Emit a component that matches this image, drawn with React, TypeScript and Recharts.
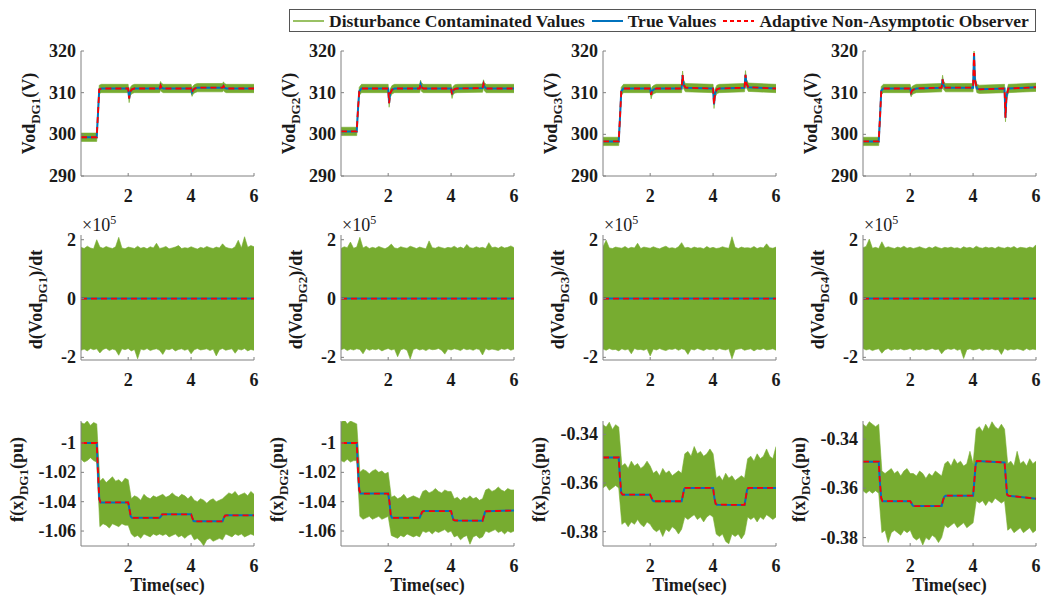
import { ComposedChart, Area, Line, XAxis, YAxis } from "recharts";

const GREEN = "#77AC30";
const BLUE = "#0072BD";
const RED = "#FF0000";
const AXIS = "#808080";
const INK = "#1a1a1a";
const FONT = "'Liberation Serif', 'DejaVu Serif', 'Noto Serif', Tinos, 'Times New Roman', Times, serif";

// layout of the 3x4 grid (plot area corners, page px)
const COL_LEFTS = [81, 341, 603, 863];
const ROW_TOPS = [51, 235, 421];
const PW = 173;
const PH = 125;
const ML = 75;
const MT = 25;
const MR = 12;
const XH = 55;
const CW = ML + PW + MR;
const CH = MT + PH + XH;

// shared time axis
const X_DOMAIN = [0.5, 6];
const X_TICKS = [2, 4, 6];
const T_GRID = [
  0.5, 0.6, 0.7, 0.8, 0.9, 1.0, 1.1, 1.2, 1.3, 1.4,
  1.5, 1.6, 1.7, 1.8, 1.9, 2.0, 2.1, 2.2, 2.3, 2.4,
  2.5, 2.6, 2.7, 2.8, 2.9, 3.0, 3.1, 3.2, 3.3, 3.4,
  3.5, 3.6, 3.7, 3.8, 3.9, 4.0, 4.1, 4.2, 4.3, 4.4,
  4.5, 4.6, 4.7, 4.8, 4.9, 5.0, 5.1, 5.2, 5.3, 5.4,
  5.5, 5.6, 5.7, 5.8, 5.9, 6.0,
];

// ---- row 1: Vod (V)
const VOD_T = [0.5, 1.0, 1.04, 1.08, 1.15, 2.0, 2.03, 2.06, 2.12, 2.2, 3.0, 3.03, 3.06, 3.12, 4.0, 4.03, 4.06, 4.12, 4.2, 5.0, 5.03, 5.06, 5.12, 6.0];
const VOD_DG1 = [299.3, 299.3, 305, 310.8, 311, 311, 308.6, 310.2, 310.8, 311, 311, 311.7, 311.2, 311, 311, 310.1, 310.6, 311, 311.2, 311.2, 311.6, 311.2, 311, 311];
const VOD_DG2 = [300.7, 300.7, 306, 310.3, 311, 311, 307.5, 309.8, 310.7, 311, 311, 312, 311.3, 311, 311, 309.6, 310.5, 310.9, 311, 311.1, 312.1, 311.4, 311, 311];
const VOD_DG3 = [298.3, 298.3, 304, 310.3, 311, 311, 309.5, 310.4, 310.8, 311, 311, 314.2, 312, 311.2, 311, 307.2, 309.8, 310.8, 311, 311.2, 314.3, 312.2, 311.3, 311];
const VOD_DG4 = [298.3, 298.3, 304, 310.5, 311, 311, 310, 310.5, 310.8, 311, 311.2, 313.2, 311.8, 311.2, 311.2, 319.5, 313, 311, 310.8, 311, 304, 309, 311, 311.3];
const VOD_SPREAD = [1.0, 1.0, 1.0, 1.0];
const VOD_TICKS = [290, 300, 310, 320];

// ---- row 2: d(Vod)/dt, x1e5
const DV_T = [0.5, 6.0];
const DV_TRUE = [0, 0];
const DV_TICKS = [-2, 0, 2];
const DV_HI_DG1 = [
  1.74, 1.70, 1.78, 1.72, 1.69, 2.00, 1.75, 1.71, 1.77, 1.73,
  1.70, 1.76, 2.08, 1.72, 1.69, 1.75, 1.73, 1.70, 1.78, 1.71,
  1.74, 1.69, 1.76, 1.72, 1.88, 1.70, 1.73, 1.77, 1.69, 1.72,
  1.75, 1.80, 1.70, 1.73, 1.71, 1.76, 1.72, 1.68, 1.74, 1.71,
  1.77, 1.73, 1.70, 1.75, 1.72, 1.86, 1.74, 1.71, 1.69, 1.76,
  1.98, 1.72, 2.10, 1.74, 1.80, 1.76,
];
const DV_LO_DG1 = [
  -1.76, -1.72, -1.78, -1.70, -1.74, -1.71, -1.85, -1.73, -1.69, -1.77,
  -1.72, -1.75, -1.93, -1.71, -1.74, -1.70, -1.78, -1.73, -2.05, -1.72,
  -1.75, -1.70, -1.77, -1.73, -1.71, -1.76, -1.90, -1.72, -1.74, -1.70,
  -1.78, -1.73, -1.71, -1.76, -1.72, -1.88, -1.74, -1.70, -1.75, -1.73,
  -1.71, -1.77, -1.72, -1.95, -1.74, -1.70, -1.76, -1.73, -1.71, -1.86,
  -1.72, -1.75, -1.70, -1.78, -1.73, -1.76,
];
const DV_HI_DG2 = [
  1.70, 1.76, 1.73, 1.92, 1.71, 1.75, 2.08, 1.72, 1.78, 1.70,
  1.74, 1.71, 1.77, 1.73, 1.69, 1.75, 1.85, 1.72, 1.70, 1.76,
  1.73, 1.71, 1.78, 1.74, 1.70, 1.75, 1.72, 1.69, 1.96, 1.73,
  1.71, 1.76, 1.73, 1.70, 1.74, 1.72, 1.78, 1.71, 1.75, 1.70,
  1.84, 1.73, 1.71, 1.76, 1.72, 1.74, 1.70, 1.90, 1.73, 1.75,
  1.71, 1.77, 1.72, 1.74, 1.79, 1.73,
];
const DV_LO_DG2 = [
  -1.74, -1.70, -1.77, -1.72, -1.75, -1.71, -1.73, -1.88, -1.70, -1.76,
  -1.72, -1.74, -1.71, -1.78, -1.73, -1.70, -1.75, -1.72, -1.98, -1.74,
  -1.71, -1.76, -2.06, -1.73, -1.70, -1.75, -1.72, -1.77, -1.71, -1.74,
  -1.73, -1.70, -1.76, -1.89, -1.72, -1.75, -1.71, -1.73, -1.77, -1.70,
  -1.74, -1.72, -1.76, -1.71, -1.73, -1.92, -1.70, -1.75, -1.72, -1.74,
  -1.77, -1.71, -1.73, -1.70, -1.76, -1.72,
];
const DV_HI_DG3 = [
  1.76, 1.98, 1.72, 1.70, 1.75, 1.73, 1.71, 1.77, 1.70, 1.74,
  1.72, 1.88, 1.70, 1.75, 1.73, 1.71, 1.76, 1.72, 1.69, 1.74,
  1.78, 1.71, 1.73, 1.70, 1.76, 1.90, 1.72, 1.74, 1.70, 1.75,
  1.72, 1.73, 1.69, 1.77, 1.71, 1.74, 1.70, 1.72, 1.76, 1.73,
  1.71, 2.10, 1.74, 1.70, 1.75, 1.72, 1.73, 1.71, 1.77, 1.70,
  1.74, 1.72, 1.86, 1.73, 1.71, 1.75,
];
const DV_LO_DG3 = [
  -1.72, -1.76, -1.70, -1.74, -1.73, -1.78, -1.71, -1.75, -1.72, -1.88,
  -1.70, -1.74, -1.73, -1.76, -1.71, -1.95, -1.72, -1.75, -1.70, -1.74,
  -1.77, -1.72, -1.73, -1.70, -1.76, -1.71, -1.74, -1.90, -1.72, -1.75,
  -1.70, -1.73, -1.77, -1.71, -1.74, -1.72, -1.76, -1.70, -1.73, -1.75,
  -1.71, -2.05, -1.74, -1.72, -1.70, -1.76, -1.73, -1.71, -1.78, -1.72,
  -1.74, -1.70, -1.75, -1.73, -1.71, -1.76,
];
const DV_HI_DG4 = [
  1.73, 1.77, 2.02, 1.71, 1.74, 1.70, 1.93, 1.72, 1.76, 1.73,
  1.70, 1.75, 1.72, 1.78, 1.71, 1.74, 1.70, 1.73, 1.76, 1.72,
  1.69, 1.75, 1.71, 1.77, 1.73, 1.70, 1.74, 1.72, 1.75, 1.71,
  1.73, 1.69, 1.76, 1.72, 1.74, 1.70, 1.78, 1.73, 1.71, 1.75,
  1.72, 1.74, 1.70, 1.76, 1.73, 1.71, 1.75, 1.72, 1.77, 1.70,
  1.74, 1.73, 1.71, 1.75, 1.72, 1.83,
];
const DV_LO_DG4 = [
  -1.70, -1.75, -1.72, -1.77, -1.73, -1.71, -1.86, -1.74, -1.70, -1.76,
  -1.72, -1.74, -1.71, -1.75, -1.73, -1.70, -1.77, -1.72, -1.74, -1.71,
  -1.76, -1.73, -1.70, -1.74, -1.72, -1.88, -1.75, -1.71, -1.73, -1.70,
  -1.76, -1.72, -2.04, -1.74, -1.71, -1.75, -1.73, -1.70, -1.77, -1.72,
  -1.74, -1.71, -1.75, -1.73, -1.90, -1.70, -1.76, -1.72, -1.74, -1.71,
  -1.73, -1.77, -1.70, -1.75, -1.72, -1.74,
];

// ---- row 3: f(x) (pu)
const FX_T = [0.5, 1.0, 1.04, 1.08, 1.12, 2.0, 2.04, 2.08, 2.12, 3.0, 3.04, 3.08, 3.12, 4.0, 4.04, 4.08, 4.12, 5.0, 5.04, 5.08, 5.12, 6.0];
const FX_DG1 = [-1.0, -1.0, -1.02, -1.038, -1.0405, -1.0405, -1.045, -1.05, -1.051, -1.051, -1.05, -1.0487, -1.0486, -1.0486, -1.051, -1.0532, -1.0534, -1.0534, -1.051, -1.0495, -1.0493, -1.0493];
const FX_DG2 = [-1.0, -1.0, -1.018, -1.032, -1.0345, -1.0345, -1.04, -1.049, -1.051, -1.051, -1.049, -1.047, -1.0464, -1.0464, -1.05, -1.0525, -1.0528, -1.053, -1.05, -1.047, -1.0465, -1.046];
const FX_DG3 = [-0.3495, -0.3495, -0.358, -0.364, -0.3648, -0.3648, -0.366, -0.3672, -0.3675, -0.3675, -0.365, -0.3625, -0.362, -0.362, -0.366, -0.3685, -0.3689, -0.369, -0.366, -0.3628, -0.362, -0.362];
const FX_DG4 = [-0.3492, -0.3492, -0.358, -0.364, -0.3652, -0.3652, -0.366, -0.367, -0.3672, -0.3672, -0.365, -0.3635, -0.363, -0.363, -0.357, -0.3505, -0.3489, -0.3495, -0.356, -0.3625, -0.363, -0.3642];

const FX_HI_DG1 = [
  -0.986, -0.987, -0.985, -0.988, -0.986, -0.987,
  -1.026, -1.024, -1.027, -1.025, -1.023, -1.026, -1.025, -1.027, -1.024, -1.025,
  -1.038, -1.036, -1.037, -1.039, -1.035, -1.037, -1.038, -1.036, -1.037, -1.036,
  -1.035, -1.037, -1.036, -1.034, -1.036, -1.037, -1.035, -1.036, -1.038, -1.036,
  -1.039, -1.040, -1.038, -1.039, -1.041, -1.039, -1.038, -1.040, -1.039, -1.038,
  -1.036, -1.034, -1.035, -1.033, -1.036, -1.035, -1.034, -1.036, -1.033, -1.035,
];
const FX_LO_DG1 = [
  -1.011, -1.013, -1.012, -1.010, -1.012, -1.013,
  -1.057, -1.055, -1.056, -1.058, -1.055, -1.056, -1.057, -1.055, -1.056, -1.056,
  -1.062, -1.064, -1.063, -1.065, -1.062, -1.063, -1.064, -1.062, -1.063, -1.062,
  -1.063, -1.062, -1.064, -1.063, -1.062, -1.064, -1.063, -1.065, -1.063, -1.062,
  -1.066, -1.065, -1.067, -1.070, -1.066, -1.065, -1.067, -1.066, -1.065, -1.066,
  -1.062, -1.063, -1.064, -1.062, -1.063, -1.062, -1.064, -1.063, -1.062, -1.063,
];
const FX_HI_DG2 = [
  -0.986, -0.984, -0.987, -0.985, -0.986, -0.987,
  -1.020, -1.018, -1.019, -1.021, -1.019, -1.018, -1.020, -1.019, -1.021, -1.020,
  -1.037, -1.036, -1.038, -1.037, -1.035, -1.038, -1.037, -1.036, -1.037, -1.038,
  -1.033, -1.032, -1.034, -1.033, -1.031, -1.033, -1.034, -1.032, -1.033, -1.033,
  -1.038, -1.037, -1.039, -1.037, -1.038, -1.036, -1.038, -1.037, -1.039, -1.038,
  -1.032, -1.031, -1.033, -1.032, -1.030, -1.032, -1.033, -1.031, -1.032, -1.032,
];
const FX_LO_DG2 = [
  -1.012, -1.013, -1.011, -1.013, -1.012, -1.012,
  -1.050, -1.052, -1.051, -1.050, -1.052, -1.051, -1.050, -1.052, -1.051, -1.050,
  -1.063, -1.064, -1.065, -1.063, -1.064, -1.062, -1.063, -1.064, -1.063, -1.064,
  -1.060, -1.061, -1.060, -1.062, -1.060, -1.061, -1.060, -1.059, -1.061, -1.060,
  -1.064, -1.063, -1.066, -1.064, -1.063, -1.069, -1.064, -1.063, -1.065, -1.064,
  -1.060, -1.061, -1.060, -1.059, -1.061, -1.060, -1.062, -1.060, -1.061, -1.060,
];
const FX_HI_DG3 = [
  -0.336, -0.337, -0.335, -0.338, -0.336, -0.337,
  -0.353, -0.352, -0.354, -0.351, -0.353, -0.352, -0.354, -0.353, -0.351, -0.353,
  -0.356, -0.355, -0.357, -0.354, -0.356, -0.355, -0.357, -0.356, -0.355, -0.356,
  -0.348, -0.347, -0.349, -0.345, -0.348, -0.347, -0.349, -0.348, -0.346, -0.348,
  -0.358, -0.357, -0.359, -0.356, -0.358, -0.357, -0.359, -0.358, -0.357, -0.358,
  -0.350, -0.349, -0.351, -0.348, -0.350, -0.349, -0.346, -0.349, -0.350, -0.345,
];
const FX_LO_DG3 = [
  -0.362, -0.361, -0.363, -0.362, -0.361, -0.362,
  -0.377, -0.376, -0.378, -0.376, -0.377, -0.375, -0.377, -0.378, -0.376, -0.377,
  -0.379, -0.380, -0.379, -0.382, -0.379, -0.380, -0.378, -0.379, -0.381, -0.379,
  -0.374, -0.375, -0.374, -0.373, -0.375, -0.374, -0.376, -0.374, -0.373, -0.374,
  -0.381, -0.382, -0.381, -0.384, -0.385, -0.381, -0.382, -0.381, -0.383, -0.381,
  -0.374, -0.375, -0.374, -0.376, -0.374, -0.375, -0.373, -0.374, -0.375, -0.374,
];
const FX_HI_DG4 = [
  -0.334, -0.335, -0.333, -0.334, -0.335, -0.334,
  -0.353, -0.354, -0.353, -0.352, -0.354, -0.353, -0.355, -0.353, -0.352, -0.354,
  -0.354, -0.355, -0.353, -0.354, -0.356, -0.354, -0.355, -0.353, -0.354, -0.355,
  -0.350, -0.349, -0.351, -0.348, -0.350, -0.349, -0.351, -0.350, -0.345, -0.350,
  -0.336, -0.335, -0.337, -0.334, -0.336, -0.333, -0.335, -0.336, -0.334, -0.336,
  -0.350, -0.349, -0.351, -0.345, -0.350, -0.349, -0.351, -0.348, -0.350, -0.349,
];
const FX_LO_DG4 = [
  -0.361, -0.362, -0.361, -0.362, -0.361, -0.362,
  -0.378, -0.377, -0.382, -0.378, -0.377, -0.378, -0.379, -0.377, -0.378, -0.377,
  -0.380, -0.381, -0.380, -0.383, -0.380, -0.381, -0.379, -0.380, -0.382, -0.380,
  -0.375, -0.376, -0.375, -0.374, -0.376, -0.375, -0.374, -0.376, -0.375, -0.374,
  -0.365, -0.366, -0.365, -0.367, -0.365, -0.366, -0.364, -0.365, -0.366, -0.365,
  -0.377, -0.376, -0.378, -0.377, -0.376, -0.378, -0.377, -0.376, -0.378, -0.377,
];
const FX_TICKS_A = [-1.06, -1.04, -1.02, -1];
const FX_TICKS_B = [-0.38, -0.36, -0.34];
const FX_DOMAINS = [
  [-1.0702, -0.985],
  [-1.0702, -0.985],
  [-0.3859, -0.3345],
  [-0.3834, -0.3327],
];

const LEGEND = [
  { label: "Disturbance Contaminated Values", color: GREEN, dash: undefined, width: 1.5 },
  { label: "True Values", color: BLUE, dash: undefined, width: 2 },
  { label: "Adaptive Non-Asymptotic Observer", color: RED, dash: "4 3", width: 2 },
];

const LABEL_PARTS = [
  ["Vod", "(V)"],
  ["d(Vod", ")/dt"],
  ["f(x)", "(pu)"],
];
const LABEL_X = [29, 36, 17];
const LABEL_SHIFT = [0, 2, -4];

const textStyle = { fontFamily: FONT, fontWeight: "bold" as const, fill: INK };

function BottomTick(props: any) {
  const { x, y, payload } = props;
  return (
    <g>
      <line x1={x} x2={x} y1={y} y2={y - 3} stroke={AXIS} />
      <text x={x} y={y + 26} textAnchor="middle" fontSize={18} style={textStyle}>
        {payload.value}
      </text>
    </g>
  );
}

function TopTick(props: any) {
  const { x, y } = props;
  return <line x1={x} x2={x} y1={y} y2={y + 3} stroke={AXIS} />;
}

function LeftTick(props: any) {
  const { x, y, payload } = props;
  return (
    <g>
      <line x1={x} x2={x + 3} y1={y} y2={y} stroke={AXIS} />
      <text x={x - 5} y={y + 6} textAnchor="end" fontSize={18} style={textStyle}>
        {String(payload.value)}
      </text>
    </g>
  );
}

function RightTick(props: any) {
  const { x, y } = props;
  return <line x1={x} x2={x - 3} y1={y} y2={y} stroke={AXIS} />;
}

function Panel({ left, top, band, line, domain, yTicks, row, n }: any) {
  const [pre, post] = LABEL_PARTS[row];
  const lx = LABEL_X[row];
  const ly = MT + PH / 2 + LABEL_SHIFT[row];
  const yLabel = () => (
    <g>
      <text transform={`rotate(-90 ${lx} ${ly})`} x={lx} y={ly} textAnchor="middle" fontSize={18} style={textStyle}>
        <tspan>{pre}</tspan>
        <tspan fontSize={13} dy={5}>{`DG${n}`}</tspan>
        <tspan dy={-5}>{post}</tspan>
      </text>
      {row === 1 && (
        <text x={ML + 1} y={MT - 4} fontSize={18} style={{ fontFamily: FONT, fill: INK }}>
          {"\u00d710"}
          <tspan fontSize={12} dy={-7}>5</tspan>
        </text>
      )}
    </g>
  );
  const timeLabel = () => (
    <text x={ML + PW / 2} y={MT + PH + 45} textAnchor="middle" fontSize={18} style={textStyle}>
      Time(sec)
    </text>
  );

  return (
    <div style={{ position: "absolute", left: left - ML, top: top - MT }}>
      <ComposedChart width={CW} height={CH} data={band} margin={{ top: MT, right: MR, bottom: 0, left: 0 }}>
        <XAxis
          dataKey="t"
          type="number"
          domain={X_DOMAIN}
          ticks={X_TICKS}
          interval={0}
          allowDataOverflow
          height={XH}
          tickSize={0}
          tickMargin={0}
          axisLine={{ stroke: AXIS }}
          tick={<BottomTick />}
          label={row === 2 ? { content: timeLabel } : undefined}
        />
        <XAxis
          xAxisId="top"
          orientation="top"
          dataKey="t"
          type="number"
          domain={X_DOMAIN}
          ticks={X_TICKS}
          interval={0}
          allowDataOverflow
          height={0}
          tickSize={0}
          tickMargin={0}
          axisLine={{ stroke: AXIS }}
          tick={<TopTick />}
        />
        <YAxis
          type="number"
          domain={domain}
          ticks={yTicks}
          interval={0}
          allowDataOverflow
          width={ML}
          tickSize={0}
          tickMargin={0}
          axisLine={{ stroke: AXIS }}
          tick={<LeftTick />}
          label={{ content: yLabel }}
        />
        <YAxis
          yAxisId="r"
          orientation="right"
          type="number"
          domain={domain}
          ticks={yTicks}
          interval={0}
          allowDataOverflow
          width={0}
          tickSize={0}
          tickMargin={0}
          axisLine={{ stroke: AXIS }}
          tick={<RightTick />}
        />
        <Area
          type="linear"
          dataKey="band"
          stroke={GREEN}
          strokeWidth={0.6}
          fill={GREEN}
          fillOpacity={1}
          dot={false}
          activeDot={false}
          isAnimationActive={false}
        />
        <Line data={line} type="linear" dataKey="v" stroke={BLUE} strokeWidth={2} dot={false} activeDot={false} isAnimationActive={false} />
        <Line
          data={line}
          type="linear"
          dataKey="v"
          stroke={RED}
          strokeWidth={1.8}
          strokeDasharray="6 4"
          dot={false}
          activeDot={false}
          isAnimationActive={false}
        />
      </ComposedChart>
    </div>
  );
}

const VOD_SERIES = [VOD_DG1, VOD_DG2, VOD_DG3, VOD_DG4];
const DV_HI = [DV_HI_DG1, DV_HI_DG2, DV_HI_DG3, DV_HI_DG4];
const DV_LO = [DV_LO_DG1, DV_LO_DG2, DV_LO_DG3, DV_LO_DG4];
const FX_SERIES = [FX_DG1, FX_DG2, FX_DG3, FX_DG4];
const FX_HI = [FX_HI_DG1, FX_HI_DG2, FX_HI_DG3, FX_HI_DG4];
const FX_LO = [FX_LO_DG1, FX_LO_DG2, FX_LO_DG3, FX_LO_DG4];

function Legend() {
  return (
    <div
      style={{
        position: "absolute",
        left: 289,
        top: 9,
        width: 747,
        height: 23,
        boxSizing: "border-box",
        border: "1px solid #555",
        background: "#fff",
        display: "flex",
        alignItems: "center",
        paddingLeft: 3,
        fontFamily: FONT,
        fontWeight: "bold",
        fontSize: 17.5,
        color: INK,
        whiteSpace: "nowrap",
        lineHeight: "20px",
      }}
    >
      {LEGEND.map((item, i) => (
        <span key={item.label} style={{ display: "inline-flex", alignItems: "center", marginLeft: i === 0 ? 0 : 7 }}>
          <svg width={31} height={6}>
            <line x1={0} x2={31} y1={3} y2={3} stroke={item.color} strokeWidth={item.width} strokeDasharray={item.dash} />
          </svg>
          <span style={{ marginLeft: 5 }}>{item.label}</span>
        </span>
      ))}
    </div>
  );
}

export default function App() {
  return (
    <div
      style={{
        position: "absolute",
        left: 0,
        top: 0,
        width: 1048,
        height: 595,
        background: "#fff",
        overflow: "hidden",
        fontFamily: FONT,
      }}
    >
      {VOD_SERIES.map((vals, c) => {
        const rows = VOD_T.map((t, i) => ({ t, v: vals[i], band: [vals[i] - VOD_SPREAD[c], vals[i] + VOD_SPREAD[c]] }));
        return (
          <Panel key={`vod${c}`} left={COL_LEFTS[c]} top={ROW_TOPS[0]} band={rows} line={rows} domain={[290, 320]} yTicks={VOD_TICKS} row={0} n={c + 1} />
        );
      })}
      {DV_HI.map((hi, c) => {
        const band = T_GRID.map((t, i) => ({ t, band: [DV_LO[c][i], hi[i]] }));
        const line = DV_T.map((t, i) => ({ t, v: DV_TRUE[i] }));
        return (
          <Panel key={`dv${c}`} left={COL_LEFTS[c]} top={ROW_TOPS[1]} band={band} line={line} domain={[-2.09, 2.16]} yTicks={DV_TICKS} row={1} n={c + 1} />
        );
      })}
      {FX_SERIES.map((vals, c) => {
        const band = T_GRID.map((t, i) => ({ t, band: [FX_LO[c][i], FX_HI[c][i]] }));
        const line = FX_T.map((t, i) => ({ t, v: vals[i] }));
        return (
          <Panel
            key={`fx${c}`}
            left={COL_LEFTS[c]}
            top={ROW_TOPS[2]}
            band={band}
            line={line}
            domain={FX_DOMAINS[c]}
            yTicks={c < 2 ? FX_TICKS_A : FX_TICKS_B}
            row={2}
            n={c + 1}
          />
        );
      })}
      <Legend />
    </div>
  );
}
